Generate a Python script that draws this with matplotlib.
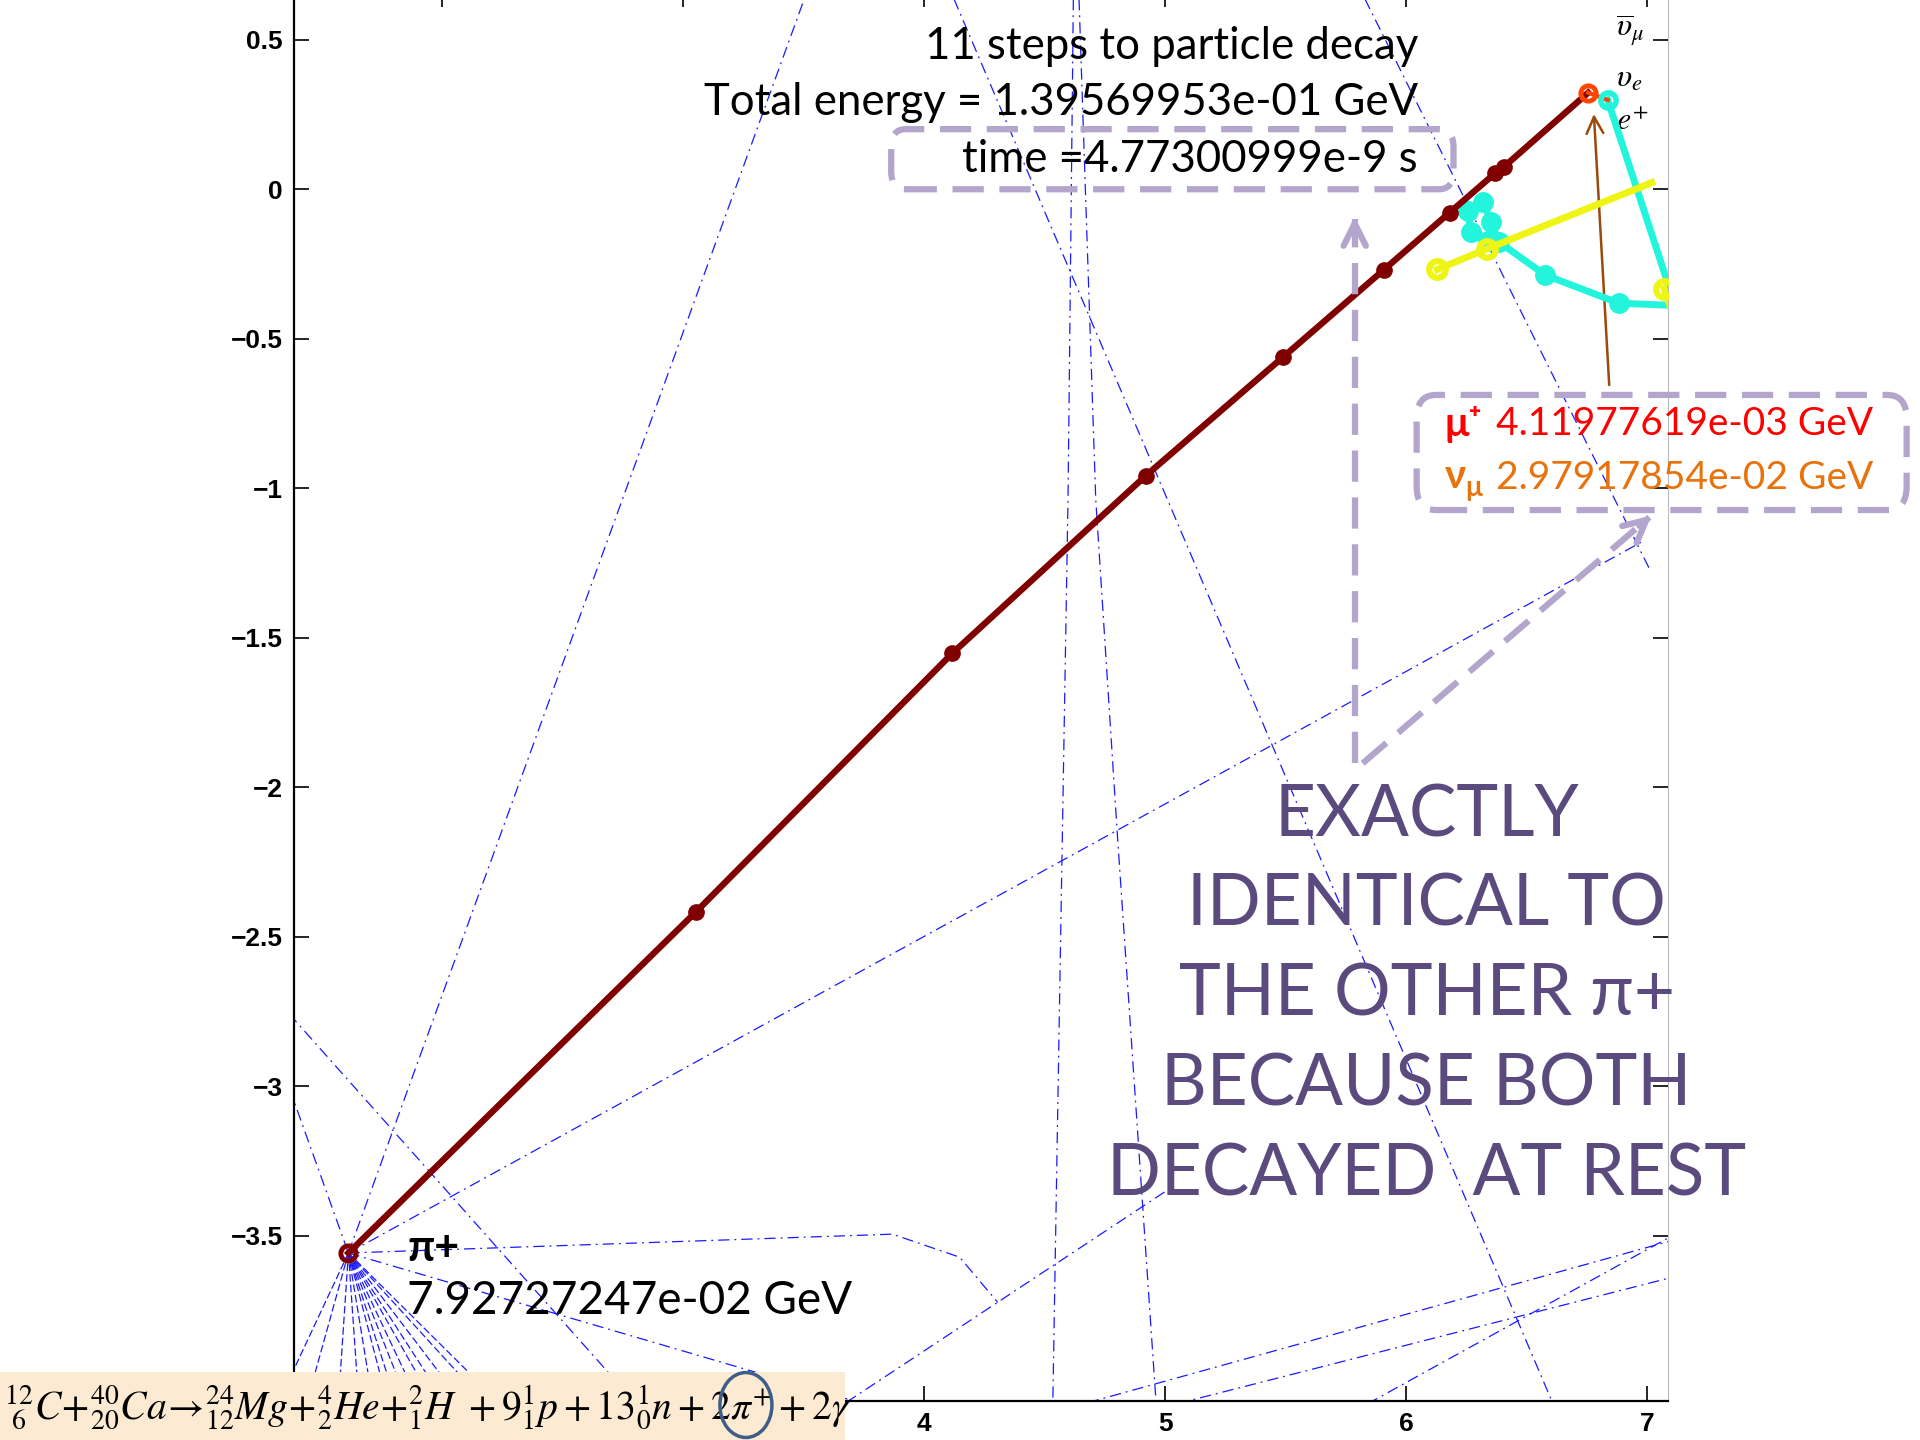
import matplotlib
matplotlib.use('Agg')
import matplotlib.pyplot as plt
from matplotlib.patches import FancyBboxPatch, Rectangle, Ellipse

plt.rcParams['mathtext.fontset'] = 'stix'

# pion track (11 steps)
pion_x = [1.610, 3.054, 4.117, 4.920, 5.490, 5.907, 6.181, 6.369, 6.405, 6.756]
pion_y = [-3.558, -2.416, -1.552, -0.958, -0.561, -0.270, -0.078, 0.053, 0.074, 0.323]

# muon stub and positron walk
muon_x = [6.756, 6.837]
muon_y = [0.323, 0.299]
posi_x = [6.837, 7.117, 6.883, 6.578, 6.385, 6.354, 6.319, 6.258, 6.268, 6.339]
posi_y = [0.299, -0.389, -0.381, -0.287, -0.176, -0.111, -0.041, -0.074, -0.143, -0.172]

# yellow tracks
yel_x = [6.130, 6.337, 7.020]
yel_y = [-0.268, -0.199, 0.022]
yel2_x = [7.071, 7.130]
yel2_y = [-0.332, -0.470]

# other reaction products (blue dash-dot)
blue_tracks = [
    ([1.610, 3.531], [-3.558, 0.70]),
    ([1.610, 6.975], [-3.558, -1.181]),
    ([5.790, 7.010], [0.70, -1.269]),
    ([4.090, 6.630], [0.70, -4.10]),
    ([4.620, 4.597, 4.533], [0.70, -1.036, -4.10]),
    ([4.640, 4.712, 4.801, 4.966], [0.70, -1.036, -2.149, -4.10]),
    ([1.610, 3.868, 4.147, 4.305], [-3.558, -3.495, -3.572, -3.723]),
    ([3.597, 5.007], [-4.10, -3.349]),
    ([4.494, 7.150], [-4.10, -3.506]),
    ([4.866, 7.150], [-4.10, -3.630]),
    ([5.756, 7.150], [-4.10, -3.480]),
    ([1.300, 2.846], [-2.700, -4.10]),
    ([1.300, 1.610], [-2.861, -3.558]),
    ([1.610, 3.907], [-3.558, -4.10]),
]
fan_x = [1.295, 1.423, 1.565, 1.657, 1.720, 1.786, 1.825, 1.876, 1.928,
         1.992, 2.045, 2.121, 2.224, 2.288]
fan_bottom = -4.10

yticks = [0.5, 0, -0.5, -1, -1.5, -2, -2.5, -3, -3.5]
ytick_labels = ['0.5', '0', '\u22120.5', '\u22121', '\u22121.5', '\u22122',
                '\u22122.5', '\u22123', '\u22123.5']
xticks = [2, 3, 4, 5, 6, 7]
# 2 and 3 sit under the equation strip in the picture
xtick_labels = ['', '', '4', '5', '6', '7']

title_lines = ['11 steps to particle decay',
               'Total energy = 1.39569953e-01 GeV',
               'time =4.77300999e-9 s']
pion_energy = '7.92727247e-02 GeV'
muon_energy = '4.11977619e-03 GeV'
numu_energy = '2.97917854e-02 GeV'
big_lines = ['EXACTLY', 'IDENTICAL TO', 'THE OTHER \u03c0+', 'BECAUSE BOTH',
             'DECAYED  AT REST']
equation = (r'${}^{12}_{\ 6}C\!+\!{}^{40}_{20}Ca\!\rightarrow\!{}^{24}_{12}Mg\!+\!{}^{4}_{2}He'
            r'\!+\!{}^{2}_{1}H\ +9^{1}_{1}p+13^{1}_{0}n+2\pi^{+}+2\gamma$')

lav = '#B3A5CC'
txt_font = ['Lato', 'DejaVu Sans']

fig = plt.figure(figsize=(19.2, 14.4), dpi=100)
ax = fig.add_axes([0.1531, 0.0271, 0.7156, 0.9785])
ax.set_xlim(1.384, 7.087)
ax.set_ylim(-4.053, 0.66)

for bx, by in blue_tracks:
    ax.plot(bx, by, color='#1a1aff', lw=0.9, ls=(0, (9, 4, 1.5, 4)))
for fx in fan_x:
    ax.plot([pion_x[0], fx], [pion_y[0], fan_bottom], color='#1a1aff', lw=0.9,
            ls=(0, (6, 2.5)))

# pion
ax.plot(pion_x, pion_y, color='#800000', lw=4.6, marker='o', ms=11,
        markevery=list(range(1, 9)), zorder=5)
ax.plot(pion_x[0], pion_y[0], marker='o', ms=11, mfc='none', mec='#800000',
        mew=3.5, zorder=6)
# muon + positron
ax.plot(muon_x, muon_y, color='#FF4500', lw=3, zorder=6)
ax.plot(muon_x[0], muon_y[0], marker='o', ms=11, mfc='none', mec='#FF4500',
        mew=3.5, zorder=7)
ax.plot(posi_x, posi_y, color='#22F5DC', lw=5, marker='o', ms=14,
        markevery=[2, 3, 4, 5, 6, 7, 8, 9], zorder=4)
ax.plot(posi_x[0], posi_y[0], marker='o', ms=11, mfc='none', mec='#22F5DC',
        mew=4, zorder=6)
ax.plot(yel_x, yel_y, color='#EEF514', lw=5, zorder=5)
ax.plot(yel_x[:2], yel_y[:2], ls='none', marker='o', ms=12, mfc='none',
        mec='#EEF514', mew=4.5, zorder=6)
ax.plot(yel2_x, yel2_y, color='#EEF514', lw=5, marker='o', ms=12, mfc='none',
        mec='#EEF514', mew=4.5, markevery=[0], zorder=5)

# brown arrow to the muon
ax.annotate('', xy=(6.779, 0.261), xytext=(6.844, -0.664),
            arrowprops=dict(arrowstyle='->', color='#9A4A0C', lw=1.8,
                            mutation_scale=30))

# neutrino / positron labels
ax.text(6.873, 0.530, r'$\overline{\upsilon}_{\mu}$', fontsize=23, va='center')
ax.text(6.873, 0.370, r'$\upsilon_{e}$', fontsize=23, va='center')
ax.text(6.873, 0.225, r'$e^{+}$', fontsize=23, va='center')

# header text and box
for line, yy in zip(title_lines, [0.479, 0.291, 0.098]):
    ax.text(6.05, yy, line, ha='right', va='center', fontsize=31.5,
            family=txt_font, zorder=8)
box1 = FancyBboxPatch((3.863, 0.0), 6.197 - 3.863, 0.201,
                      boxstyle='round,pad=0,rounding_size=0.06',
                      fc='none', ec=lav, lw=4.5, ls=(0, (5, 2.5)), zorder=7)
ax.add_patch(box1)

# decay product box
box2 = FancyBboxPatch((6.044, -1.073), 8.078 - 6.044, 0.385,
                      boxstyle='round,pad=0,rounding_size=0.08',
                      fc='none', ec=lav, lw=4.5, ls=(0, (5, 2.5)),
                      clip_on=False, zorder=7)
ax.add_patch(box2)
ax.text(6.16, -0.786, '\u03bc\u207a', color='#FF0000', fontsize=29,
        fontweight='bold', family=txt_font, va='center', clip_on=False)
ax.text(6.375, -0.786, muon_energy, color='#FF0000', fontsize=28,
        family=txt_font, va='center', clip_on=False)
ax.text(6.16, -0.962, '\u03bd', color='#E8720C', fontsize=29,
        fontweight='bold', family=txt_font, va='center', clip_on=False)
ax.text(6.245, -1.0, '\u03bc', color='#E8720C', fontsize=20,
        fontweight='bold', family=txt_font, va='center', clip_on=False)
ax.text(6.375, -0.966, numu_energy, color='#E8720C', fontsize=28,
        family=txt_font, va='center', clip_on=False)

# big lavender dashed arrows
ax.plot([5.787, 5.787], [-1.920, -0.10], color=lav, lw=4.5, ls=(0, (5, 2.5)),
        zorder=7)
ax.annotate('', xy=(5.787, -0.082), xytext=(5.787, -0.16),
            arrowprops=dict(arrowstyle='->', color=lav, lw=4.5,
                            mutation_scale=40), zorder=7)
ax.plot([5.820, 7.010], [-1.920, -1.097], color=lav, lw=4.5, ls=(0, (5, 2.5)),
        clip_on=False, zorder=7)
ax.annotate('', xy=(7.028, -1.085), xytext=(6.96, -1.132),
            arrowprops=dict(arrowstyle='->', color=lav, lw=4.5,
                            mutation_scale=40), annotation_clip=False, zorder=7)

# big explanation text
for line, yy in zip(big_lines, [-2.096, -2.395, -2.694, -2.997, -3.296]):
    ax.text(6.085, yy, line, ha='center', va='center', fontsize=51,
            color='#5B4A7E', family=txt_font, clip_on=False, zorder=8)

# pion label near the start
ax.text(1.854, -3.541, '\u03c0+', fontsize=31, fontweight='bold',
        family=txt_font, va='center')
ax.text(1.854, -3.718, pion_energy, fontsize=33, family=txt_font, va='center')

# axes styling
ax.set_xticks(xticks)
ax.set_xticklabels(xtick_labels)
ax.set_yticks(yticks)
ax.set_yticklabels(ytick_labels)
ax.tick_params(direction='in', length=11, width=1.2, top=True, right=True,
               pad=8)
for lab in ax.get_xticklabels() + ax.get_yticklabels():
    lab.set_fontfamily('Liberation Sans')
    lab.set_fontweight('bold')
    lab.set_fontsize(19)
ax.spines['left'].set_linewidth(1.6)
ax.spines['bottom'].set_linewidth(1.6)
ax.spines['right'].set_color('#BBBBBB')
ax.spines['top'].set_visible(False)

# reaction equation strip at the bottom left
fig.patches.append(Rectangle((0, 0), 0.44, 0.0472, transform=fig.transFigure,
                             fc='#FCEBD2', ec='none', zorder=10))
fig.text(0.002, 0.022, equation, fontsize=28.5, va='center', ha='left', zorder=11)
fig.patches.append(Ellipse((0.3885, 0.0243), 0.0271, 0.0451,
                           transform=fig.transFigure, fc='none',
                           ec='#3E5E86', lw=2.5, zorder=12))

plt.savefig('out.png', dpi=100)
